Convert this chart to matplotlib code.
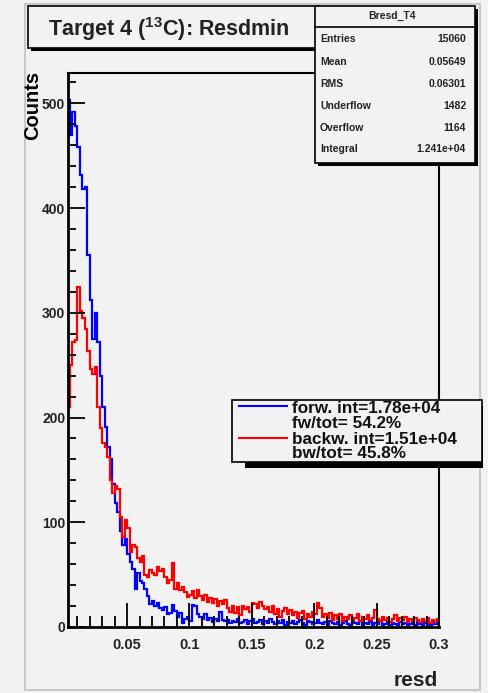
import numpy as np
import matplotlib
matplotlib.use("Agg")
import matplotlib.pyplot as plt
from matplotlib.patches import Rectangle
from matplotlib.lines import Line2D
from matplotlib.ticker import MultipleLocator

plt.rcParams['font.family'] = ['Liberation Sans', 'DejaVu Sans']
plt.rcParams['mathtext.default'] = 'regular'

# histogram binning (resd)
bin_start = 0.002
bin_width = 0.002

forw_counts = [
    503, 470, 492, 478, 458, 432, 418, 420, 355, 312,
    275, 300, 272, 240, 210, 191, 172, 160, 137, 118,
    110, 92, 78, 84, 70, 62, 55, 36, 52, 44,
    42, 36, 30, 22, 25, 20, 23, 18, 16, 19,
    12, 13, 21, 15, 10, 13, 4, 8, 10, 6,
    21, 20, 12, 10, 8, 12, 7, 9, 5, 8,
    6, 14, 7, 6, 7, 4, 6, 5, 8, 4,
    5, 7, 3, 6, 8, 4, 5, 7, 3, 6,
    4, 8, 5, 3, 6, 4, 7, 2, 5, 4,
    6, 3, 5, 7, 4, 2, 6, 5, 3, 4,
    7, 4, 3, 5, 2, 6, 4, 3, 5, 2,
    4, 6, 3, 2, 5, 4, 3, 6, 2, 4,
    3, 5, 2, 4, 3, 6, 2, 3, 5, 2,
    4, 3, 2, 5, 3, 4, 2, 3, 4, 2,
    5, 3, 2, 4, 3, 2, 4, 3, 5,
]

backw_counts = [
    210, 250, 272, 274, 325, 302, 295, 285, 264, 246,
    242, 248, 210, 190, 176, 172, 162, 140, 128, 135,
    132, 105, 86, 102, 95, 72, 78, 76, 66, 62,
    68, 50, 48, 54, 52, 50, 57, 53, 55, 48,
    42, 45, 61, 36, 42, 35, 38, 33, 29, 31,
    34, 28, 35, 30, 26, 31, 24, 28, 23, 27,
    20, 25, 22, 26, 18, 14, 20, 13, 19, 11,
    20, 17, 19, 14, 23, 22, 18, 24, 20, 17,
    19, 14, 20, 12, 17, 10, 15, 18, 12, 16,
    11, 14, 9, 13, 15, 8, 12, 10, 14, 12,
    23, 18, 10, 12, 9, 13, 7, 11, 8, 12,
    6, 10, 8, 11, 7, 9, 12, 6, 10, 8,
    11, 7, 9, 16, 8, 6, 10, 7, 9, 5,
    8, 11, 6, 9, 7, 10, 5, 8, 6, 9,
    7, 5, 8, 6, 9, 4, 7, 6, 8,
]

stat_names = ["Entries", "Mean", "RMS", "Underflow", "Overflow", "Integral"]
stat_values = ["15060", "0.05649", "0.06301", "1482", "1164", "1.241e+04"]
legend_lines = ["forw. int=1.78e+04", "fw/tot= 54.2%", "backw. int=1.51e+04", "bw/tot= 45.8%"]

W, H = 488, 693
bg = '#f2f2f2'
fig = plt.figure(figsize=(W / 100, H / 100), dpi=100, facecolor=bg)


def fx(x):
    return x / W


def fy(y):
    return 1 - y / H


ax = fig.add_axes([fx(68), fy(627), (439 - 68) / W, (627 - 73) / H])
ax.set_facecolor(bg)

edges = bin_start + bin_width * np.arange(len(forw_counts) + 1)
ax.stairs(forw_counts, edges, color='#0000ff', lw=1.6)
ax.stairs(backw_counts, edges, color='#ff0000', lw=1.6)

ax.set_xlim(0.0027, 0.3)
ax.set_ylim(0, 529)
ax.xaxis.set_minor_locator(MultipleLocator(0.01))
ax.yaxis.set_major_locator(MultipleLocator(100))
ax.yaxis.set_minor_locator(MultipleLocator(20))
ax.set_xticks([0.05, 0.1, 0.15, 0.2, 0.25, 0.3])
ax.set_xticklabels(["0.05", "0.1", "0.15", "0.2", "0.25", "0.3"])
ax.tick_params(axis='x', which='major', direction='in', length=17, width=1.3, pad=8,
               labelsize=10.5)
ax.tick_params(axis='x', which='minor', direction='in', length=8, width=1.3)
ax.tick_params(axis='y', which='major', direction='in', length=12, width=1.3, pad=2,
               labelsize=10)
ax.tick_params(axis='y', which='minor', direction='in', length=6, width=1.3)
for lab in ax.get_xticklabels() + ax.get_yticklabels():
    lab.set_fontweight('bold')
    lab.set_color('#222222')
for side in ['left', 'bottom']:
    ax.spines[side].set_linewidth(2)
for side in ['top', 'right']:
    ax.spines[side].set_linewidth(1.5)

# axis titles
fig.text(fx(33), fy(71), "Counts", rotation=90, ha='center', va='top',
         fontsize=14.5, fontweight='bold')
fig.text(fx(438), fy(681), "resd", ha='right', va='center',
         fontsize=15, fontweight='bold', color='#222222')

# canvas border
fig.add_artist(Rectangle((fx(25), fy(690)), fx(480) - fx(25), fy(4) - fy(690),
                         transform=fig.transFigure, fill=False,
                         edgecolor='#c8c8c8', lw=1.5))

# title box with shadow
fig.add_artist(Rectangle((fx(31), fy(51)), fx(320) - fx(28), fy(6) - fy(48),
                         transform=fig.transFigure, facecolor='black', edgecolor='none'))
fig.add_artist(Rectangle((fx(28), fy(48)), fx(320) - fx(28), fy(6) - fy(48),
                         transform=fig.transFigure, facecolor=bg, edgecolor='black', lw=1.2))
fig.text(fx(169), fy(29), r"Target 4 ($^{13}$C): Resdmin", ha='center', va='center',
         fontsize=15.5, fontweight='bold', color='#222222')

# stats box with shadow
fig.add_artist(Rectangle((fx(318), fy(166)), fx(475) - fx(315), fy(6) - fy(163),
                         transform=fig.transFigure, facecolor='black', edgecolor='none'))
fig.add_artist(Rectangle((fx(315), fy(163)), fx(475) - fx(315), fy(6) - fy(163),
                         transform=fig.transFigure, facecolor=bg, edgecolor='black', lw=1.2))
fig.add_artist(Line2D([fx(315), fx(475)], [fy(27), fy(27)], transform=fig.transFigure,
                      color='black', lw=1.2))
fig.text(fx(392), fy(16), "Bresd_T4", ha='center', va='center', fontsize=7.5,
         fontweight='bold', color='#222222')
stat_rows = [39, 62, 84, 106, 128, 149]
for name, val, yy in zip(stat_names, stat_values, stat_rows):
    fig.text(fx(320), fy(yy), name, ha='left', va='center', fontsize=7.5,
             fontweight='bold', color='#222222')
    fig.text(fx(466), fy(yy), val, ha='right', va='center', fontsize=7.5,
             fontweight='bold', color='#222222')

# legend box with shadow
fig.add_artist(Rectangle((fx(245), fy(468)), fx(483) - fx(245), fy(400) - fy(462),
                         transform=fig.transFigure, facecolor='black', edgecolor='none'))
fig.add_artist(Rectangle((fx(232), fy(462)), fx(482) - fx(232), fy(400) - fy(462),
                         transform=fig.transFigure, facecolor=bg, edgecolor='black', lw=1.2))
fig.add_artist(Line2D([fx(239), fx(287)], [fy(406), fy(406)], transform=fig.transFigure,
                      color='#0000ff', lw=1.5))
fig.add_artist(Line2D([fx(239), fx(287)], [fy(438), fy(438)], transform=fig.transFigure,
                      color='#ff0000', lw=1.5))
for txt, yy in zip(legend_lines, [408, 423, 439, 454]):
    fig.text(fx(292), fy(yy), txt, ha='left', va='center', fontsize=12.3,
             fontweight='semibold', color='#111111')

fig.savefig("out.png", dpi=100, facecolor=bg)
